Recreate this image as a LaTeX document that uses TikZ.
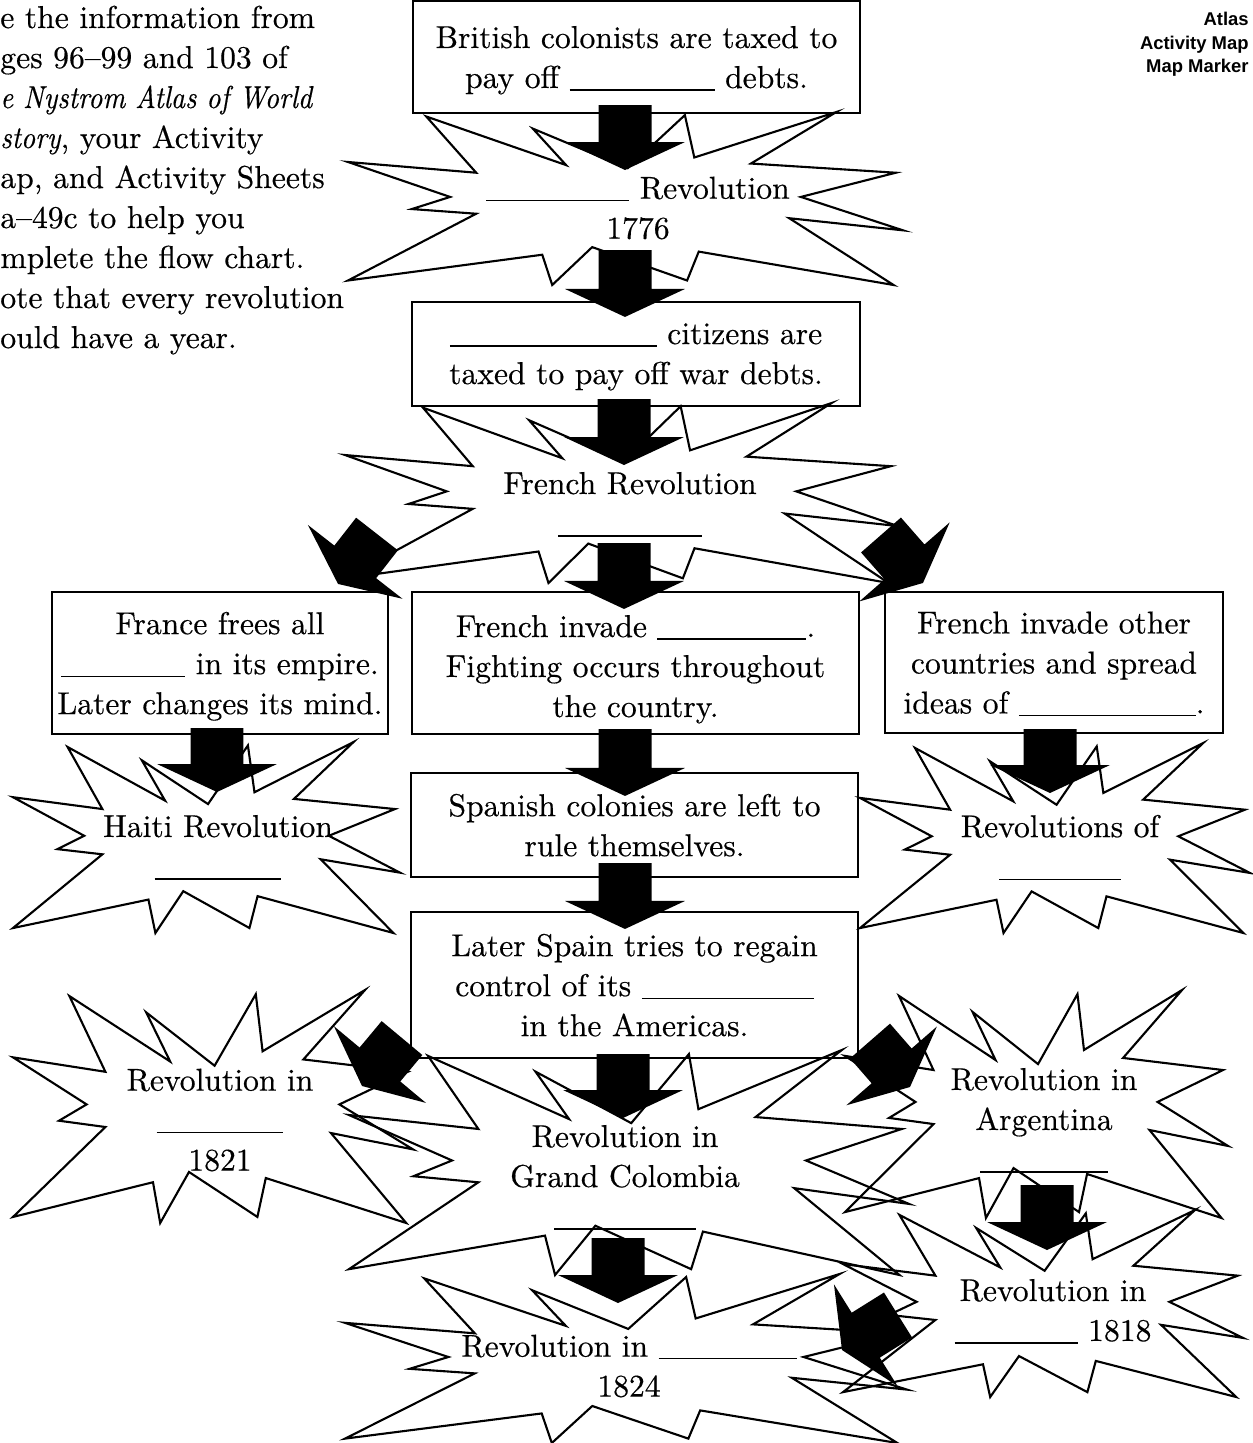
\documentclass[tikz,border=0pt]{standalone}
\usepackage{fontspec}
\setmainfont{lmroman10-regular.otf}[
  FakeBold=0.4,
  BoldFont=lmroman10-bold.otf,
  ItalicFont=lmroman10-italic.otf,
  ItalicFeatures={FakeStretch=0.88}]
\newfontfamily\markerfont{Liberation Sans}
\usetikzlibrary{calc}
\newcommand{\fillin}[1]{\strut\rule[-1.5pt]{#1}{0.7pt}}

\begin{document}
\begin{tikzpicture}[
    x=0.02cm, y=-0.02cm, % one unit = one pixel of the worksheet, y downwards
    font=\fontsize{18}{22.76}\selectfont,
    box/.style={draw, line width=1.2pt, align=center, inner sep=0pt, text depth=0pt},
    bursttext/.style={align=center, inner sep=0pt},
    burstline/.style={line width=1.2pt, line join=miter},
    fatarrow/.style={fill=black, to path={
        let \p1=(\tikztostart), \p2=(\tikztotarget),
            \n1={atan2(\y2-\y1,\x2-\x1)} in
        ($(\p1)+(\n1+90:0.53cm)$)
        -- ($(\p2)+(\n1+180:0.56cm)+(\n1+90:0.53cm)$)
        -- ($(\p2)+(\n1+180:0.56cm)+(\n1+90:1.2cm)$)
        -- (\p2)
        -- ($(\p2)+(\n1+180:0.56cm)+(\n1-90:1.2cm)$)
        -- ($(\p2)+(\n1+180:0.56cm)+(\n1-90:0.53cm)$)
        -- ($(\p1)+(\n1-90:0.53cm)$) -- cycle}},
    burst/.pic={
      \draw[burstline] (0.141,0.026) -- (0.393,0.307) -- (0.333,0.096) -- (0.504,0.325)
        -- (0.607,0.018) -- (0.624,0.263) -- (0.880,0) -- (0.726,0.298)
        -- (0.987,0.351) -- (0.816,0.491) -- (1,0.684) -- (0.795,0.614)
        -- (0.983,1) -- (0.632,0.807) -- (0.611,0.974) -- (0.440,0.781)
        -- (0.368,1) -- (0.350,0.825) -- (0,0.974) -- (0.231,0.588)
        -- (0.115,0.561) -- (0.184,0.491) -- (0,0.289) -- (0.231,0.351) -- cycle;
    }
  ]
  \useasboundingbox (0,0) rectangle (1253,1443);

  % --- INSTRUCTIONS (cut off at the left edge) ---
  \foreach \txt [count=\i from 0] in {e the information from, ges 96--99 and 103 of,
      {\itshape e Nystrom Atlas of World}, {{\itshape story}, your Activity},
      {ap, and Activity Sheets}, a--49c to help you, mplete the flow chart.,
      ote that every revolution, ould have a year.}
    \node[anchor=base west, inner sep=0pt] (intro\i) at (0,{28+40*\i}) {\txt};

  \node[anchor=north east, align=right, inner sep=0pt,
        font=\markerfont\bfseries\fontsize{10.5}{13.4}\selectfont] (marker) at (1249,12)
    {Atlas\\Activity Map\\Map Marker};

  % --- BOXES ---
  \node[box, minimum width=8.94cm, minimum height=2.24cm] (taxbox) at (636.5,57)
    {British colonists are taxed to\\pay off \fillin{2.9cm} debts.};
  \node[box, minimum width=8.96cm, minimum height=2.08cm, text depth=4.5pt] (citizenbox) at (636,354)
    {\fillin{4.14cm} citizens are\\taxed to pay off war debts.};
  \node[box, minimum width=6.72cm, minimum height=2.84cm] (slavebox) at (220,663)
    {France frees all\\\fillin{2.48cm} in its empire.\\Later changes its mind.};
  \node[box, minimum width=8.94cm, minimum height=2.84cm] (invadebox) at (635.5,663)
    {French invade \fillin{2.98cm}.\\Fighting occurs throughout\\the country.};
  \node[box, minimum width=6.76cm, minimum height=2.82cm] (ideasbox) at (1054,662.5)
    {French invade other\\countries and spread\\ideas of \fillin{3.54cm}.};
  \node[box, minimum width=8.94cm, minimum height=2.08cm] (spainbox) at (634.5,825)
    {Spanish colonies are left to\\rule themselves.};
  \node[box, minimum width=8.94cm, minimum height=2.92cm] (regainbox) at (634.5,985)
    {Later Spain tries to regain\\control of its \fillin{3.44cm}\\in the Americas.};

  % --- BURSTS (outline scaled to each bounding box) ---
  \pic[xscale=555, yscale=173] at (348,112) {burst};
  \pic[xscale=553, yscale=180] at (345,403) {burst};
  \pic[xscale=387, yscale=191] at (13,742) {burst};
  \pic[xscale=390, yscale=190] at (860,743) {burst};
  \pic[xscale=400, yscale=233] at (13,990) {burst};
  \pic[xscale=560, yscale=225] at (349,1050) {burst};
  \pic[xscale=562, yscale=169] at (345,1274) {burst};
  \pic[xscale=383, yscale=228] at (845,990) {burst};
  \pic[xscale=400, yscale=187] at (843,1210) {burst};

  \node[bursttext] (amrev) at (638,205) {\fillin{2.86cm} Revolution\\1776};
  \node[bursttext] (frrev) at (630,509) {French Revolution\\\fillin{2.88cm}};
  \node[bursttext] (haiti) at (218,852) {Haiti Revolution\\\fillin{2.54cm}};
  \node[bursttext] (ideasrev) at (1060,852) {Revolutions of\\\fillin{2.44cm}};
  \node[bursttext] (rev1821) at (220,1120) {Revolution in\\\fillin{2.54cm}\\1821};
  \node[bursttext] (colombia) at (625,1182) {Revolution in\\Grand Colombia\\\fillin{2.84cm}};
  \node[bursttext] (rev1824) at (629,1363) {Revolution in \fillin{2.76cm}\\1824};
  \node[bursttext] (argentina) at (1044,1125) {Revolution in\\Argentina\\\fillin{2.56cm}};
  \node[bursttext] (rev1818) at (1053,1316) {Revolution in\\\fillin{2.46cm} 1818};

  % --- BLOCK ARROWS ---
  \path[fatarrow] ($(taxbox.south)+(-11.5,-9)$) to ($(amrev.center)+(-13,-35)$);
  \path[fatarrow] ($(amrev.center)+(-13,45)$) to ($(citizenbox.north)+(-11,16)$);
  \path[fatarrow] ($(citizenbox.south)+(-12,-8)$) to ($(frrev.center)+(-6,-44)$);
  \path[fatarrow] ($(frrev.center)+(-6,34)$) to ($(invadebox.north)+(-11.5,18)$);
  % the two slanted ones out of the French Revolution
  \path[fatarrow] ($(frrev.center)+(-253,25)$) to ($(slavebox.north east)+(-51,-7)$);
  \path[fatarrow] ($(frrev.center)+(251,26)$) to ($(ideasbox.north west)+(39,-8)$);
  \path[fatarrow] ($(slavebox.south)+(-3,-7)$) to ($(haiti.center)+(-1,-60)$);
  \path[fatarrow] ($(ideasbox.south)+(-4,-5)$) to ($(ideasrev.center)+(-10,-59)$);
  \path[fatarrow] ($(invadebox.south)+(-10.5,-6)$) to ($(spainbox.north)+(-9.5,24)$);
  \path[fatarrow] ($(spainbox.south)+(-9.5,-15)$) to ($(regainbox.north)+(-9.5,18)$);
  \path[fatarrow] ($(regainbox.south)+(-11.5,-5)$) to ($(colombia.center)+(-2,-64)$);
  \path[fatarrow] ($(regainbox.south west)+(-8,-21)$) to ($(rev1821.center)+(142,-34)$);
  \path[fatarrow] ($(regainbox.south east)+(11,-18)$) to ($(argentina.center)+(-134,-38)$);
  \path[fatarrow] ($(colombia.center)+(-7,56)$) to ($(rev1824.center)+(-11,-60)$);
  \path[fatarrow] ($(argentina.center)+(3,60)$) to ($(rev1818.center)+(-6,-66)$);
  \path[fatarrow] ($(rev1818.center)+(-155,-1)$) to ($(rev1824.center)+(213,-13)$);

\end{tikzpicture}
\end{document}
